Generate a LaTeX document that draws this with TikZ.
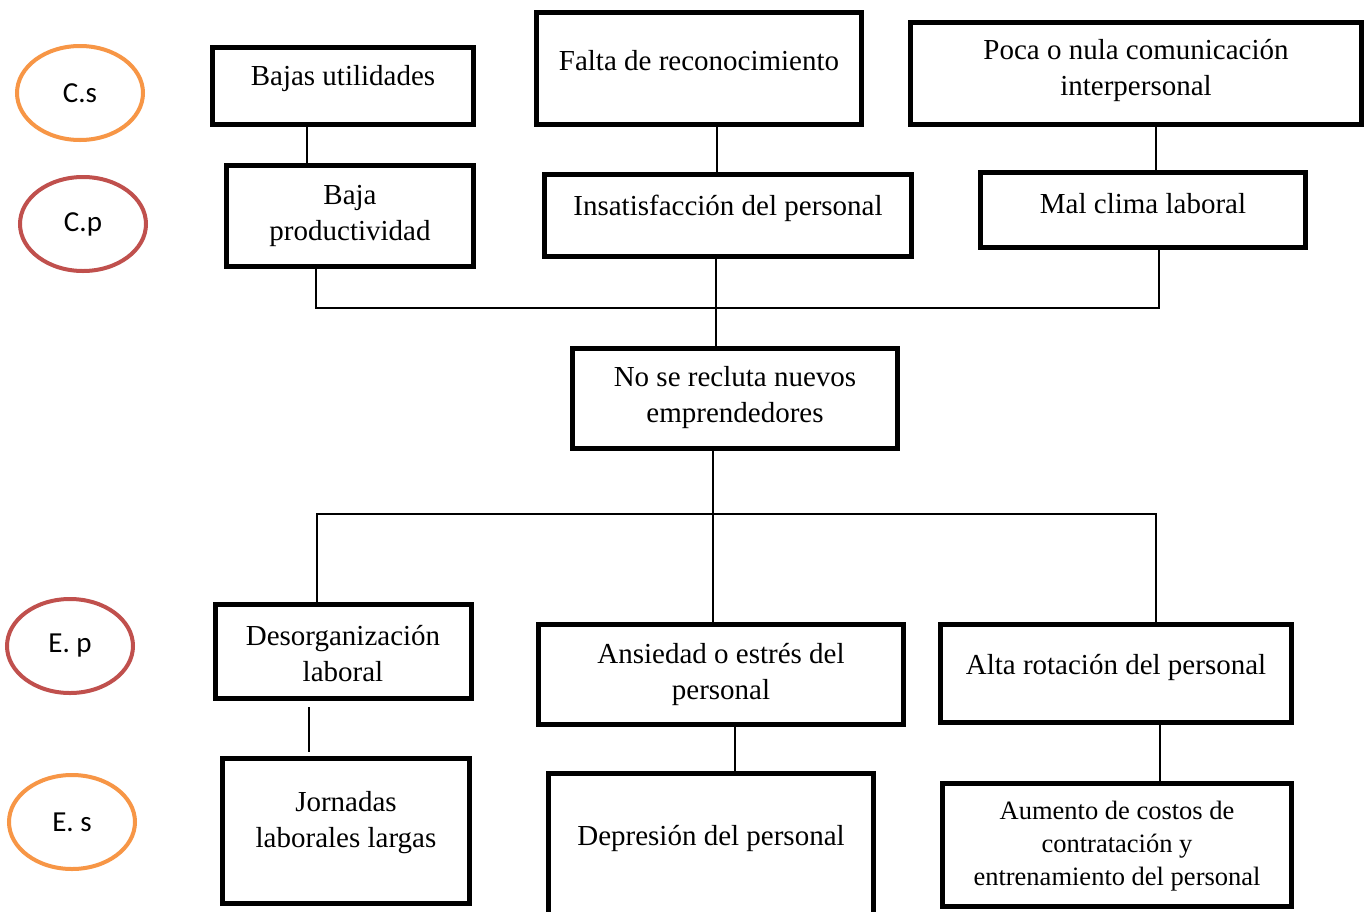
\documentclass[tikz,border=0pt]{standalone}
\usepackage{fontspec}
\setmainfont{Liberation Serif}
\newfontfamily\calib{Carlito}
\usetikzlibrary{shapes.geometric}
\definecolor{orgC}{HTML}{F79646}
\definecolor{redC}{HTML}{C0504D}
\begin{document}
\begin{tikzpicture}[x=1pt,y=-1pt,
  box/.style={draw=black,line width=5pt,rectangle,inner sep=0pt},
  txt/.style={align=center,inner sep=0pt,font=\fontsize{29}{36}\selectfont},
  smalltxt/.style={align=center,inner sep=0pt,font=\fontsize{26.5}{33}\selectfont},
  conn/.style={draw=black,line width=1.8pt},
  oval/.style={ellipse,draw=#1,line width=4pt,inner sep=0pt,minimum width=126,minimum height=94,font=\calib\fontsize{29}{34}\selectfont}
]
\useasboundingbox (0,0) rectangle (1371,911);
\fill[white] (0,0) rectangle (1371,911);

% ovals
\node[oval=orgC] (cs) at (80,93) {C.s};
\node[oval=redC] (cp) at (83,224) {C.p};
\node[oval=redC] (ep) at (70,646) {E. p};
\node[oval=orgC] (es) at (72,822) {E. s};

% boxes
\node[box,minimum width=261,minimum height=77] (b1) at (343,86) {};
\node[box,minimum width=325,minimum height=112] (b2) at (699,68.5) {};
\node[box,minimum width=451,minimum height=102] (b3) at (1136,73.5) {};
\node[box,minimum width=247,minimum height=101] (b4) at (350,216) {};
\node[box,minimum width=367,minimum height=82] (b5) at (728,215.5) {};
\node[box,minimum width=325,minimum height=75] (b6) at (1143,210) {};
\node[box,minimum width=325,minimum height=100] (b7) at (735,398.5) {};
\node[box,minimum width=256,minimum height=94] (b8) at (343.5,651.5) {};
\node[box,minimum width=365,minimum height=100] (b9) at (721,674.5) {};
\node[box,minimum width=351,minimum height=98] (b10) at (1116,673.5) {};
\node[box,minimum width=247,minimum height=145] (b11) at (346,831) {};
\node[box,minimum width=325,minimum height=165] (b12) at (711,856) {};
\node[box,minimum width=349,minimum height=123] (b13) at (1117,845) {};

% texts
\node[txt] (t1) at (343,79) {Bajas utilidades};
\node[txt] (t2) at (699,61) {Falta de reconocimiento};
\node[txt] (t3) at (1136,71) {Poca o nula comunicación\\interpersonal};
\node[txt] (t4) at (350,216) {Baja\\productividad};
\node[txt] (t5) at (728,208) {Insatisfacción del personal};
\node[txt] (t6) at (1143,204) {Mal clima laboral};
\node[txt] (t7) at (735,398) {No se recluta nuevos\\emprendedores};
\node[txt] (t8) at (343,654) {Desorganización\\laboral};
\node[txt] (t9) at (721,674) {Ansiedad o estrés del\\personal};
\node[txt] (t10) at (1116,667) {Alta rotación del personal};
\node[txt] (t11) at (346,823) {Jornadas\\laborales largas};
\node[txt] (t12) at (711,838) {Depresión del personal};
\node[smalltxt] (t13) at (1117,846) {Aumento de costos de\\contratación y\\entrenamiento del personal};

% junction coordinates
\coordinate (jL) at (316,308);
\coordinate (jR) at (1159,308);
\coordinate (kL) at (317,514);
\coordinate (kR) at (1156,514);

% connectors
\draw[conn] (b1.south -| 307,0) -- (b4.north -| 307,0);
\draw[conn] (b2.south -| 717,0) -- (b5.north -| 717,0);
\draw[conn] (b3.south -| 1156,0) -- (b6.north -| 1156,0);
\draw[conn] (b4.south -| jL) -- (jL) -- (jR) -- (b6.south -| jR);
\draw[conn] (b5.south -| 716,0) -- (b7.north -| 716,0);
\draw[conn] (b7.south -| 713,0) -- (b9.north -| 713,0);
\draw[conn] (b8.north -| kL) -- (kL) -- (kR) -- (b10.north -| kR);
\draw[conn,shorten <=6pt,shorten >=4pt] (b8.south -| 309,0) -- (b11.north -| 309,0);
\draw[conn] (b9.south -| 735,0) -- (b12.north -| 735,0);
\draw[conn] (b10.south -| 1160,0) -- (b13.north -| 1160,0);
\end{tikzpicture}
\end{document}
